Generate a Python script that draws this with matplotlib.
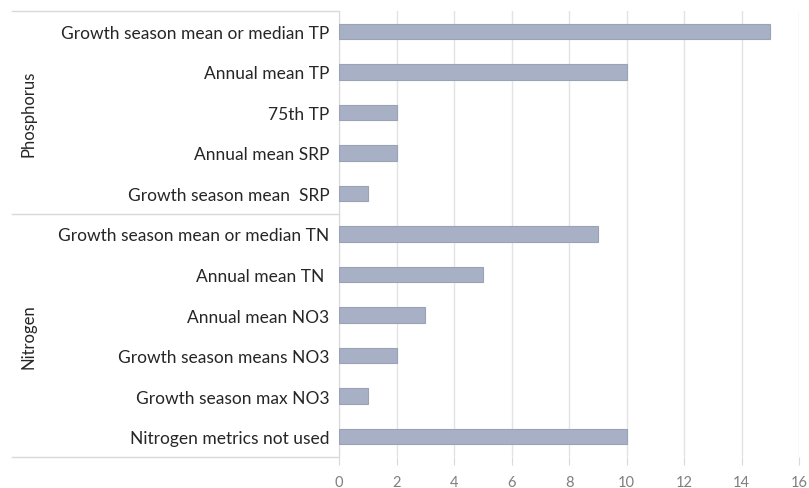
import matplotlib.pyplot as plt
from matplotlib.lines import Line2D

plt.rcParams['font.family'] = ['Lato', 'DejaVu Sans']

phosphorus_labels = ['Growth season mean or median TP', 'Annual mean TP', '75th TP',
                     'Annual mean SRP', 'Growth season mean  SRP']
phosphorus_values = [15, 10, 2, 2, 1]
nitrogen_labels = ['Growth season mean or median TN', 'Annual mean TN ', 'Annual mean NO3',
                   'Growth season means NO3', 'Growth season max NO3', 'Nitrogen metrics not used']
nitrogen_values = [9, 5, 3, 2, 1, 10]
groups = ['Phosphorus', 'Nitrogen']
x_ticks = [0, 2, 4, 6, 8, 10, 12, 14, 16]

labels = phosphorus_labels + nitrogen_labels
values = phosphorus_values + nitrogen_values
n = len(labels)
ypos = list(range(n))

fig = plt.figure(figsize=(8.09, 4.89), dpi=100)
left, right, top, bottom = 339 / 809, 799 / 809, 1 - 12 / 489, 1 - 458 / 489
ax = fig.add_axes([left, bottom, right - left, top - bottom])

ax.barh(ypos, values, height=0.38, color='#a7b0c4', edgecolor='#9aa3b6', linewidth=0.8, zorder=3)
ax.set_ylim(n - 0.5, -0.5)
ax.set_xlim(0, 16)
ax.set_xticks(x_ticks)
ax.set_yticks(ypos)
ax.set_yticklabels(labels, fontsize=12.5, color='#262626')
ax.tick_params(axis='y', length=0, pad=7)
ax.tick_params(axis='x', length=6, color='#d9d9d9', labelcolor='#7f7f7f', labelsize=10.5, pad=7)
ax.xaxis.grid(True, color='#e3e3e3', linewidth=1, zorder=0)
for s in ['top', 'right', 'bottom']:
    ax.spines[s].set_visible(False)
ax.spines['left'].set_color('#d9d9d9')

# group separator lines and labels to the left of the axis
x0 = 12 / 809
nph = len(phosphorus_labels)
for yv in [-0.5, nph - 0.5, n - 0.5]:
    yf = ax.transData.transform((0, yv))
    yfig = fig.transFigure.inverted().transform(yf)[1]
    fig.add_artist(Line2D([x0, left], [yfig, yfig], color='#d9d9d9', linewidth=1))

centers = [(nph - 1) / 2, nph + (len(nitrogen_labels) - 1) / 2]
for g, c in zip(groups, centers):
    yfig = fig.transFigure.inverted().transform(ax.transData.transform((0, c)))[1]
    fig.text(28 / 809, yfig, g, rotation=90, ha='center', va='center', fontsize=12, color='#262626')

fig.savefig('out.png', dpi=100)
